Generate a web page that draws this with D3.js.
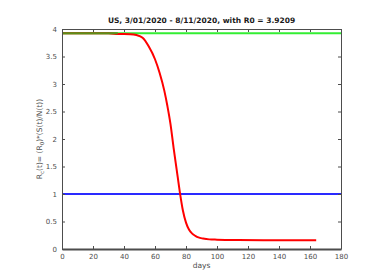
<!DOCTYPE html>
<meta charset="utf-8">
<style>
body { margin: 0; background: #fff; }
text { font-family: "DejaVu Sans", sans-serif; }
.axis text { font-size: 7px; fill: #4d4d4d; }
.axis path, .axis line { stroke: #4d4d4d; }
</style>
<svg></svg>
<script src="https://d3js.org/d3.v7.min.js"></script>
<script>

var R0 = 3.9209;

// red curve
var days = [0, 10, 20, 30, 36, 44, 48, 52, 56, 60, 63, 66, 68, 70, 72, 74, 76, 78, 80, 82, 84, 86, 88, 91, 95, 100, 110, 130, 150, 164];
var rc   = [3.9209, 3.9209, 3.9209, 3.9209, 3.91, 3.905, 3.89, 3.84, 3.68, 3.45, 3.20, 2.88, 2.60, 2.27, 1.84, 1.44, 1.04, 0.70, 0.48, 0.35, 0.28, 0.24, 0.21, 0.19, 0.175, 0.17, 0.165, 0.16, 0.16, 0.16];

// horizontal reference lines
var refDays = [0, 180];
var overlapDays = [0, 36];

var xTicks = [0, 20, 40, 60, 80, 100, 120, 140, 160, 180];
var yTicks = [0, 0.5, 1, 1.5, 2, 2.5, 3, 3.5, 4];

var width = 375, height = 279;
var margin = {top: 29, right: 34, bottom: 30, left: 62};

var svg = d3.select("svg")
    .attr("width", width)
    .attr("height", height);

var x = d3.scaleLinear().domain([0, 180]).range([margin.left, width - margin.right]);
var y = d3.scaleLinear().domain([0, 4]).range([height - margin.bottom, margin.top]);

var line = d3.line()
    .x(function(d) { return x(d[0]); })
    .y(function(d) { return y(d[1]); });

var plot = svg.append("g");

plot.append("path")
    .datum(refDays.map(function(d) { return [d, R0]; }))
    .attr("d", line)
    .attr("fill", "none")
    .attr("stroke", "#33ee33")
    .attr("stroke-width", 2);

plot.append("path")
    .datum(refDays.map(function(d) { return [d, 1]; }))
    .attr("d", line)
    .attr("fill", "none")
    .attr("stroke", "#2a2aff")
    .attr("stroke-width", 2);

plot.append("path")
    .datum(days.map(function(d, i) { return [d, rc[i]]; }))
    .attr("d", line.curve(d3.curveMonotoneX))
    .attr("fill", "none")
    .attr("stroke", "#ff0000")
    .attr("stroke-width", 2);

plot.append("path")
    .datum(overlapDays.map(function(d) { return [d, R0]; }))
    .attr("d", d3.line().x(function(d) { return x(d[0]); }).y(function(d) { return y(d[1]); }))
    .attr("fill", "none")
    .attr("stroke", "#5a8f1a")
    .attr("stroke-width", 2);

// axes, MATLAB style box with inward ticks
var xb = svg.append("g").attr("class", "axis")
    .attr("transform", "translate(0," + y(0) + ")")
    .call(d3.axisBottom(x).tickValues(xTicks).tickSizeInner(-3).tickSizeOuter(0).tickPadding(5));
var xt = svg.append("g").attr("class", "axis")
    .attr("transform", "translate(0," + y(4) + ")")
    .call(d3.axisTop(x).tickValues(xTicks).tickSizeInner(-3).tickSizeOuter(0).tickFormat(""));
var yl = svg.append("g").attr("class", "axis")
    .attr("transform", "translate(" + x(0) + ",0)")
    .call(d3.axisLeft(y).tickValues(yTicks).tickSizeInner(-3).tickSizeOuter(0).tickPadding(5).tickFormat(d3.format("")));
var yr = svg.append("g").attr("class", "axis")
    .attr("transform", "translate(" + x(180) + ",0)")
    .call(d3.axisRight(y).tickValues(yTicks).tickSizeInner(-3).tickSizeOuter(0).tickFormat(""));

xb.select(".domain").attr("stroke", "#a0a0a0").attr("stroke-width", 2);

// title
svg.append("text")
    .attr("x", (x(0) + x(180)) / 2)
    .attr("y", 23)
    .attr("text-anchor", "middle")
    .attr("font-size", "7.5px")
    .attr("font-weight", "bold")
    .attr("fill", "#1a1a1a")
    .text("US, 3/01/2020 - 8/11/2020, with R0 = 3.9209");

// x label
svg.append("text")
    .attr("x", (x(0) + x(180)) / 2)
    .attr("y", 268)
    .attr("text-anchor", "middle")
    .attr("font-size", "7.5px")
    .attr("fill", "#4d4d4d")
    .text("days");

// y label with subscripts
var ylab = svg.append("text")
    .attr("transform", "translate(42," + ((y(0) + y(4)) / 2) + ") rotate(-90)")
    .attr("text-anchor", "middle")
    .attr("font-size", "7.5px")
    .attr("fill", "#4d4d4d");
ylab.append("tspan").text("R");
ylab.append("tspan").attr("dy", 2).attr("font-size", "5.5px").text("c");
ylab.append("tspan").attr("dy", -2).text("(t)= (R");
ylab.append("tspan").attr("dy", 2).attr("font-size", "5.5px").text("0");
ylab.append("tspan").attr("dy", -2).text(")*(S(t)/N(t))");

</script>
